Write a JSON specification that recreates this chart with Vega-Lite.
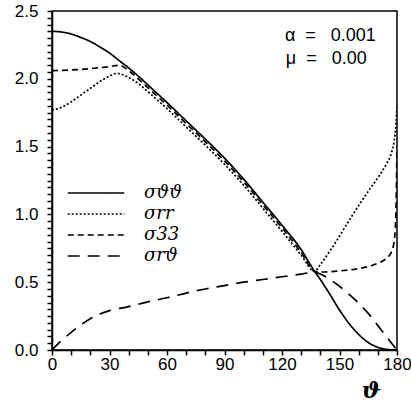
{
  "$schema": "https://vega.github.io/schema/vega-lite/v6.json",
  "width": 345,
  "height": 339,
  "autosize": {"type": "none"},
  "padding": {"left": 52, "top": 11, "right": 14, "bottom": 52},
  "background": "white",
  "config": {
    "view": {"stroke": "black", "strokeWidth": 1.5},
    "font": "Liberation Sans"
  },
  "datasets": {
    "curves": [
      {"t": 0, "v": 2.35, "c": "σϑϑ"}, {"t": 5, "v": 2.345, "c": "σϑϑ"}, {"t": 10, "v": 2.33, "c": "σϑϑ"}, {"t": 15, "v": 2.305, "c": "σϑϑ"}, {"t": 20, "v": 2.275, "c": "σϑϑ"}, {"t": 25, "v": 2.235, "c": "σϑϑ"}, {"t": 30, "v": 2.19, "c": "σϑϑ"}, {"t": 35, "v": 2.135, "c": "σϑϑ"}, {"t": 40, "v": 2.08, "c": "σϑϑ"}, {"t": 45, "v": 2.02, "c": "σϑϑ"}, {"t": 50, "v": 1.955, "c": "σϑϑ"}, {"t": 55, "v": 1.89, "c": "σϑϑ"}, {"t": 60, "v": 1.825, "c": "σϑϑ"}, {"t": 70, "v": 1.69, "c": "σϑϑ"}, {"t": 80, "v": 1.555, "c": "σϑϑ"}, {"t": 90, "v": 1.415, "c": "σϑϑ"}, {"t": 100, "v": 1.26, "c": "σϑϑ"}, {"t": 110, "v": 1.09, "c": "σϑϑ"}, {"t": 120, "v": 0.92, "c": "σϑϑ"}, {"t": 130, "v": 0.74, "c": "σϑϑ"}, {"t": 137, "v": 0.58, "c": "σϑϑ"}, {"t": 140, "v": 0.52, "c": "σϑϑ"}, {"t": 145, "v": 0.41, "c": "σϑϑ"}, {"t": 150, "v": 0.295, "c": "σϑϑ"}, {"t": 155, "v": 0.195, "c": "σϑϑ"}, {"t": 160, "v": 0.115, "c": "σϑϑ"}, {"t": 165, "v": 0.055, "c": "σϑϑ"}, {"t": 170, "v": 0.02, "c": "σϑϑ"}, {"t": 175, "v": 0.004, "c": "σϑϑ"}, {"t": 180, "v": 0, "c": "σϑϑ"},
      {"t": 0, "v": 1.77, "c": "σrr"}, {"t": 5, "v": 1.79, "c": "σrr"}, {"t": 10, "v": 1.83, "c": "σrr"}, {"t": 15, "v": 1.88, "c": "σrr"}, {"t": 20, "v": 1.93, "c": "σrr"}, {"t": 25, "v": 1.98, "c": "σrr"}, {"t": 30, "v": 2.02, "c": "σrr"}, {"t": 34, "v": 2.04, "c": "σrr"}, {"t": 37, "v": 2.03, "c": "σrr"}, {"t": 40, "v": 2.01, "c": "σrr"}, {"t": 45, "v": 1.965, "c": "σrr"}, {"t": 50, "v": 1.905, "c": "σrr"}, {"t": 55, "v": 1.843, "c": "σrr"}, {"t": 60, "v": 1.78, "c": "σrr"}, {"t": 70, "v": 1.645, "c": "σrr"}, {"t": 80, "v": 1.51, "c": "σrr"}, {"t": 90, "v": 1.37, "c": "σrr"}, {"t": 100, "v": 1.215, "c": "σrr"}, {"t": 110, "v": 1.045, "c": "σrr"}, {"t": 120, "v": 0.875, "c": "σrr"}, {"t": 130, "v": 0.7, "c": "σrr"}, {"t": 137, "v": 0.58, "c": "σrr"}, {"t": 140, "v": 0.63, "c": "σrr"}, {"t": 145, "v": 0.73, "c": "σrr"}, {"t": 150, "v": 0.84, "c": "σrr"}, {"t": 155, "v": 0.955, "c": "σrr"}, {"t": 160, "v": 1.065, "c": "σrr"}, {"t": 165, "v": 1.17, "c": "σrr"}, {"t": 170, "v": 1.27, "c": "σrr"}, {"t": 174, "v": 1.36, "c": "σrr"}, {"t": 177, "v": 1.45, "c": "σrr"}, {"t": 178.5, "v": 1.54, "c": "σrr"}, {"t": 179.5, "v": 1.67, "c": "σrr"}, {"t": 180, "v": 1.8, "c": "σrr"},
      {"t": 0, "v": 2.06, "c": "σ33"}, {"t": 10, "v": 2.065, "c": "σ33"}, {"t": 20, "v": 2.075, "c": "σ33"}, {"t": 30, "v": 2.09, "c": "σ33"}, {"t": 35, "v": 2.1, "c": "σ33"}, {"t": 40, "v": 2.06, "c": "σ33"}, {"t": 45, "v": 2.0, "c": "σ33"}, {"t": 50, "v": 1.935, "c": "σ33"}, {"t": 55, "v": 1.87, "c": "σ33"}, {"t": 60, "v": 1.805, "c": "σ33"}, {"t": 70, "v": 1.67, "c": "σ33"}, {"t": 80, "v": 1.535, "c": "σ33"}, {"t": 90, "v": 1.395, "c": "σ33"}, {"t": 100, "v": 1.24, "c": "σ33"}, {"t": 110, "v": 1.07, "c": "σ33"}, {"t": 120, "v": 0.9, "c": "σ33"}, {"t": 130, "v": 0.72, "c": "σ33"}, {"t": 137, "v": 0.58, "c": "σ33"}, {"t": 140, "v": 0.575, "c": "σ33"}, {"t": 150, "v": 0.583, "c": "σ33"}, {"t": 160, "v": 0.6, "c": "σ33"}, {"t": 165, "v": 0.615, "c": "σ33"}, {"t": 170, "v": 0.64, "c": "σ33"}, {"t": 174, "v": 0.67, "c": "σ33"}, {"t": 177, "v": 0.72, "c": "σ33"}, {"t": 178.5, "v": 0.8, "c": "σ33"}, {"t": 179.3, "v": 0.95, "c": "σ33"}, {"t": 179.7, "v": 1.2, "c": "σ33"}, {"t": 180, "v": 1.5, "c": "σ33"},
      {"t": 0, "v": 0, "c": "σrϑ"}, {"t": 5, "v": 0.07, "c": "σrϑ"}, {"t": 10, "v": 0.13, "c": "σrϑ"}, {"t": 15, "v": 0.185, "c": "σrϑ"}, {"t": 20, "v": 0.23, "c": "σrϑ"}, {"t": 25, "v": 0.265, "c": "σrϑ"}, {"t": 30, "v": 0.29, "c": "σrϑ"}, {"t": 40, "v": 0.32, "c": "σrϑ"}, {"t": 50, "v": 0.355, "c": "σrϑ"}, {"t": 60, "v": 0.385, "c": "σrϑ"}, {"t": 70, "v": 0.42, "c": "σrϑ"}, {"t": 80, "v": 0.45, "c": "σrϑ"}, {"t": 90, "v": 0.475, "c": "σrϑ"}, {"t": 100, "v": 0.5, "c": "σrϑ"}, {"t": 110, "v": 0.52, "c": "σrϑ"}, {"t": 120, "v": 0.54, "c": "σrϑ"}, {"t": 130, "v": 0.56, "c": "σrϑ"}, {"t": 137, "v": 0.575, "c": "σrϑ"}, {"t": 140, "v": 0.56, "c": "σrϑ"}, {"t": 145, "v": 0.52, "c": "σrϑ"}, {"t": 150, "v": 0.47, "c": "σrϑ"}, {"t": 155, "v": 0.41, "c": "σrϑ"}, {"t": 160, "v": 0.345, "c": "σrϑ"}, {"t": 165, "v": 0.27, "c": "σrϑ"}, {"t": 170, "v": 0.18, "c": "σrϑ"}, {"t": 175, "v": 0.09, "c": "σrϑ"}, {"t": 178, "v": 0.035, "c": "σrϑ"}, {"t": 180, "v": 0, "c": "σrϑ"}
    ]
  },
  "layer": [
    {
      "data": {"name": "curves"},
      "mark": {"type": "line", "color": "black", "strokeWidth": 1.7, "interpolate": "monotone", "clip": true},
      "encoding": {
        "x": {
          "field": "t", "type": "quantitative",
          "scale": {"domain": [0, 180], "nice": false, "zero": false},
          "axis": {
            "values": [0, 10, 20, 30, 40, 50, 60, 70, 80, 90, 100, 110, 120, 130, 140, 150, 160, 170, 180],
            "tickCount": 100,
            "labelExpr": "datum.value % 30 === 0 ? datum.label : ''",
            "format": "d",
            "labelOverlap": false,
            "labelFlush": false,
            "grid": false,
            "domainColor": "black", "domainWidth": 1.5,
            "tickColor": "black", "tickWidth": 1.5, "tickSize": 5,
            "labelFont": "Liberation Sans", "labelFontSize": 17, "labelColor": "black", "labelPadding": 1,
            "title": "ϑ",
            "titleFont": "DejaVu Serif", "titleFontStyle": "italic", "titleFontWeight": "bold", "titleFontSize": 23, "titleColor": "black",
            "titleX": 319, "titleY": 47, "titleAlign": "center", "titleBaseline": "alphabetic"
          }
        },
        "y": {
          "field": "v", "type": "quantitative",
          "scale": {"domain": [0, 2.5], "nice": false},
          "axis": {
            "values": [0, 0.05, 0.1, 0.15, 0.2, 0.25, 0.3, 0.35, 0.4, 0.45, 0.5, 0.55, 0.6, 0.65, 0.7, 0.75, 0.8, 0.85, 0.9, 0.95, 1.0, 1.05, 1.1, 1.15, 1.2, 1.25, 1.3, 1.35, 1.4, 1.45, 1.5, 1.55, 1.6, 1.65, 1.7, 1.75, 1.8, 1.85, 1.9, 1.95, 2.0, 2.05, 2.1, 2.15, 2.2, 2.25, 2.3, 2.35, 2.4, 2.45, 2.5],
            "tickCount": 100,
            "labelExpr": "round(datum.value * 100) % 50 === 0 ? format(datum.value, '.1f') : ''",
            "labelOverlap": false,
            "labelFlush": false,
            "grid": false,
            "domainColor": "black", "domainWidth": 1.5,
            "tickColor": "black", "tickWidth": 1.5, "tickSize": 5,
            "labelFont": "Liberation Sans", "labelFontSize": 17, "labelColor": "black", "labelPadding": 9,
            "title": null
          }
        },
        "strokeDash": {
          "field": "c", "type": "nominal",
          "scale": {"domain": ["σϑϑ", "σrr", "σ33", "σrϑ"], "range": [[1, 0], [2, 2], [6, 4], [12, 8]]},
          "legend": {
            "orient": "none", "legendX": 35, "legendY": 173,
            "title": null, "padding": 0,
            "symbolType": "M-4,0H4", "symbolSize": 200,
            "symbolStrokeColor": "black", "symbolStrokeWidth": 1.5,
            "labelFont": "DejaVu Serif", "labelFontStyle": "italic", "labelFontSize": 18, "labelColor": "black",
            "labelOffset": 39, "rowPadding": 3
          }
        }
      }
    },
    {
      "data": {"values": [{"label": "α\u00a0\u00a0=\u00a0\u00a0\u00a00.001"}]},
      "mark": {"type": "text", "align": "left", "baseline": "alphabetic", "font": "Liberation Sans", "fontSize": 18, "color": "black"},
      "encoding": {"x": {"datum": 121.5}, "y": {"datum": 2.28}, "text": {"field": "label"}}
    },
    {
      "data": {"values": [{"label": "μ\u00a0\u00a0=\u00a0\u00a0\u00a00.00"}]},
      "mark": {"type": "text", "align": "left", "baseline": "alphabetic", "font": "Liberation Sans", "fontSize": 18, "color": "black"},
      "encoding": {"x": {"datum": 122}, "y": {"datum": 2.11}, "text": {"field": "label"}}
    }
  ]
}
